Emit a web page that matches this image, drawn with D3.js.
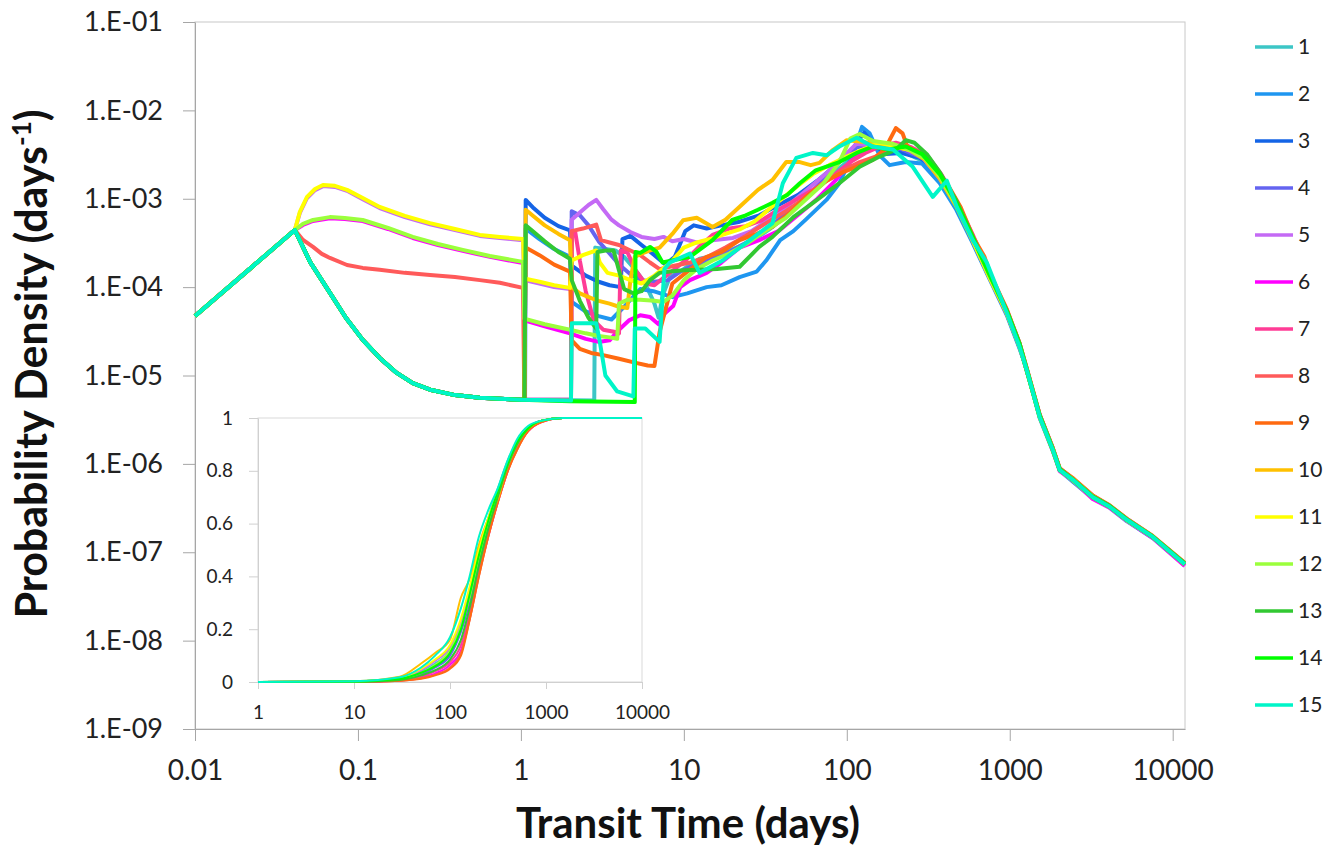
<!DOCTYPE html>
<html>
<head>
<meta charset="utf-8">
<script src="https://cdn.jsdelivr.net/npm/d3@7"></script>
<style>
  body { margin: 0; background: #fff; }
  text { font-family: Lato, "Open Sans", sans-serif; fill: #222; }
  .tick line, .domain { stroke: #a6a6a6; }
</style>
</head>
<body>
<svg id="chart" width="1336" height="847"></svg>
<script>
// Transit time distributions, 15 cases.
// Each series is a list of [days, probability density]

const names = ["1","2","3","4","5","6","7","8","9","10","11","12","13","14","15"];
const colors = ["#3cc6c6","#1e96f0","#1464e6","#6464f0","#c46af5","#ff00ff","#ff3c96","#ff5a5a",
                "#ff6a10","#ffc000","#ffff00","#9bff3c","#32c832","#00ff00","#00f5c8"];

// shared early part
const rise = [[0.01,4.7e-5],[0.041,4.43e-4]];
const fallSteep = [[0.0508,1.93e-4],[0.0673,8.6e-5],[0.0843,4.5e-5],[0.107,2.53e-5],[0.136,1.58e-5],[0.173,1.07e-5],[0.217,8.2e-6],[0.277,6.9e-6],[0.394,6.0e-6],[0.56,5.6e-6],[1.0,5.3e-6]];

const s1 = [[2.82,5.2e-6],[2.86,2.8e-4],[3.3,2.7e-4],[3.8,2.6e-4],[4.3,2.2e-4],[5.0,1.6e-4],[5.8,1.1e-4],[6.6,6.5e-5],[7.0,4.5e-5],[7.4,8.0e-5],[8.2,1.3e-4],[9.5,1.5e-4],[10.9,1.8e-4],[12.5,2.1e-4],[16,2.3e-4],[20,2.7e-4],[26,3.3e-4],[34,4.6e-4],[45,7.0e-4],[58,1.1e-3],[76,1.7e-3],[100,2.6e-3],[130,3.5e-3],[170,3.9e-3],[220,3.4e-3],[290,2.7e-3],[372,1.6e-3],[470,8.0e-4],[590,3.3e-4],[750,1.3e-4],[960,5.0e-5],[1150,2.1e-5],[1270,1.15e-5],[1527,3.5e-6],[1837,1.45e-6],[2026,8.6e-7],[2440,6.5e-7],[3230,4.3e-7],[4100,3.3e-7],[5220,2.3e-7],[7540,1.5e-7],[11860,7.4e-8]];
const s2 = [[1.05,5.3e-6],[1.07,4.6e-4],[1.3,3.5e-4],[1.6,2.7e-4],[2.0,2.2e-4],[2.05,6.8e-5],[2.5,5.3e-5],[3.0,4.7e-5],[3.6,4.3e-5],[4.3,6.0e-5],[5.4,9.5e-5],[6.5,9.0e-5],[8.5,7.7e-5],[10.5,8.5e-5],[13.8,1.0e-4],[17,1.05e-4],[22,1.3e-4],[28,1.5e-4],[32,2.0e-4],[39,3.4e-4],[47,4.3e-4],[56,5.8e-4],[75,9.7e-4],[90,1.5e-3],[110,3.3e-3],[124,6.5e-3],[138,5.5e-3],[159,3.1e-3],[183,2.4e-3],[230,2.6e-3],[290,2.5e-3],[372,1.5e-3],[470,7.5e-4],[590,3.2e-4],[750,1.25e-4],[960,4.8e-5],[1150,2.0e-5],[1270,1.2e-5],[1527,3.3e-6],[1837,1.4e-6],[2026,8.4e-7],[2440,6.3e-7],[3230,4.1e-7],[4100,3.2e-7],[5220,2.25e-7],[7540,1.45e-7],[11860,7.1e-8]];
const s3 = [[1.06,5.3e-6],[1.07,9.7e-4],[1.2,7.8e-4],[1.4,6.1e-4],[1.7,4.9e-4],[2.0,4.4e-4],[2.05,1.75e-4],[2.5,1.35e-4],[3.0,1.15e-4],[3.5,1.05e-4],[4.1,1.0e-4],[4.2,3.5e-4],[4.7,3.8e-4],[5.5,3.0e-4],[6.6,2.3e-4],[7.7,1.8e-4],[8.8,2.2e-4],[10.2,4.3e-4],[11.5,5.0e-4],[13.8,4.6e-4],[17,5.0e-4],[22,5.5e-4],[29,6.5e-4],[38,8.5e-4],[50,1.1e-3],[66,1.6e-3],[86,2.4e-3],[110,3.8e-3],[128,5.6e-3],[145,4.2e-3],[175,3.2e-3],[215,3.3e-3],[280,2.9e-3],[340,2.3e-3],[400,1.5e-3],[500,7.5e-4],[600,3.3e-4],[760,1.3e-4],[960,5.0e-5],[1150,2.1e-5],[1270,1.17e-5],[1527,3.4e-6],[1837,1.47e-6],[2026,8.7e-7],[2440,6.6e-7],[3230,4.2e-7],[4100,3.3e-7],[5220,2.35e-7],[7540,1.5e-7],[11860,7.3e-8]];
const s4 = [[2.03,5.3e-6],[2.05,7.2e-4],[2.3,6.5e-4],[2.6,5.0e-4],[3.0,3.3e-4],[3.5,2.4e-4],[4.0,1.8e-4],[4.7,1.4e-4],[5.5,1.2e-4],[6.6,1.15e-4],[8.0,1.2e-4],[9.5,1.5e-4],[11,1.7e-4],[14,2.0e-4],[19,2.5e-4],[25,3.3e-4],[33,4.6e-4],[44,7.2e-4],[58,1.1e-3],[76,1.8e-3],[95,2.9e-3],[115,3.8e-3],[140,4.2e-3],[175,3.9e-3],[220,3.6e-3],[290,2.9e-3],[360,2.0e-3],[470,8.5e-4],[590,3.6e-4],[750,1.35e-4],[960,5.2e-5],[1150,2.2e-5],[1270,1.13e-5],[1527,3.6e-6],[1837,1.5e-6],[2026,8.8e-7],[2440,6.4e-7],[3230,4.3e-7],[4100,3.25e-7],[5220,2.3e-7],[7540,1.47e-7],[11860,7.2e-8]];
const s5 = [[0.044,6.9e-4],[0.0487,1.02e-3],[0.0545,1.25e-3],[0.061,1.39e-3],[0.0722,1.36e-3],[0.0857,1.23e-3],[0.107,9.9e-4],[0.136,7.85e-4],[0.194,6.2e-4],[0.277,5.15e-4],[0.394,4.42e-4],[0.56,3.8e-4],[0.743,3.6e-4],[1.03,3.4e-4],[1.05,1.2e-4],[1.3,1.1e-4],[1.6,1.0e-4],[2.0,9.5e-5],[2.05,5.8e-4],[2.3,7.0e-4],[2.6,8.5e-4],[2.9,9.7e-4],[3.2,7.6e-4],[3.6,5.8e-4],[4.0,5.0e-4],[4.7,4.2e-4],[5.5,3.7e-4],[6.6,3.5e-4],[7.5,3.7e-4],[8.5,3.3e-4],[10,3.5e-4],[12,3.2e-4],[15,3.4e-4],[20,3.6e-4],[26,4.3e-4],[34,6.0e-4],[44,8.5e-4],[58,1.3e-3],[76,2.0e-3],[95,3.0e-3],[115,4.2e-3],[140,4.0e-3],[175,3.6e-3],[220,3.8e-3],[290,3.0e-3],[372,1.7e-3],[470,8.5e-4],[590,3.4e-4],[750,1.3e-4],[960,5.0e-5],[1150,2.1e-5],[1270,1.18e-5],[1527,3.4e-6],[1837,1.43e-6],[2026,8.5e-7],[2440,6.7e-7],[3230,4.2e-7],[4100,3.3e-7],[5220,2.3e-7],[7540,1.48e-7],[11860,7.4e-8]];
const s6 = [[0.046,5.05e-4],[0.053,5.6e-4],[0.0673,6.0e-4],[0.083,5.9e-4],[0.107,5.6e-4],[0.153,4.55e-4],[0.217,3.6e-4],[0.31,3.0e-4],[0.44,2.57e-4],[0.645,2.2e-4],[1.03,1.87e-4],[1.05,4.2e-5],[1.4,3.6e-5],[2.0,3.0e-5],[2.5,2.6e-5],[3.0,2.4e-5],[3.5,2.5e-5],[4.0,3.3e-5],[4.6,4.2e-5],[5.4,4.8e-5],[6.2,4.6e-5],[7.0,3.8e-5],[7.6,5.0e-5],[8.6,6.1e-5],[9.5,1.0e-4],[10.9,1.2e-4],[13.8,1.45e-4],[17,1.9e-4],[22,2.8e-4],[29,3.4e-4],[38,4.3e-4],[50,6.5e-4],[66,1.0e-3],[85,1.6e-3],[105,2.6e-3],[125,3.5e-3],[150,4.3e-3],[190,4.0e-3],[240,3.9e-3],[300,3.0e-3],[372,1.9e-3],[470,9.0e-4],[590,3.8e-4],[750,1.4e-4],[960,5.3e-5],[1150,2.2e-5],[1270,1.14e-5],[1527,3.5e-6],[1837,1.46e-6],[2026,8.3e-7],[2440,6.5e-7],[3230,4.0e-7],[4100,3.2e-7],[5220,2.28e-7],[7540,1.46e-7],[11860,7.0e-8]];
const s7 = [[2.03,5.3e-6],[2.05,4.3e-4],[2.15,4.3e-4],[2.3,2.0e-4],[2.5,9.0e-5],[2.8,4.2e-5],[3.2,3.3e-5],[3.8,3.1e-5],[4.0,3.0e-5],[4.1,2.6e-4],[4.5,2.5e-4],[5.0,1.6e-4],[5.8,1.1e-4],[6.6,1.05e-4],[7.6,1.3e-4],[8.8,1.6e-4],[10.5,2.1e-4],[12.5,2.9e-4],[15,3.9e-4],[19,4.6e-4],[24,4.9e-4],[30,5.7e-4],[38,7.5e-4],[50,1.0e-3],[66,1.35e-3],[85,1.9e-3],[105,2.6e-3],[130,3.3e-3],[160,3.9e-3],[200,4.3e-3],[250,3.8e-3],[310,3.1e-3],[380,1.9e-3],[470,9.5e-4],[590,4.0e-4],[750,1.45e-4],[960,5.5e-5],[1150,2.3e-5],[1270,1.2e-5],[1527,3.6e-6],[1837,1.5e-6],[2026,8.9e-7],[2440,6.8e-7],[3230,4.4e-7],[4100,3.35e-7],[5220,2.4e-7],[7540,1.52e-7],[11860,7.5e-8]];
const s8 = [[0.046,3.42e-4],[0.053,2.85e-4],[0.06,2.38e-4],[0.0673,2.14e-4],[0.0857,1.78e-4],[0.107,1.65e-4],[0.136,1.57e-4],[0.194,1.45e-4],[0.277,1.37e-4],[0.394,1.3e-4],[0.56,1.2e-4],[0.743,1.12e-4],[1.03,9.8e-5],[1.05,5.3e-6],[2.03,5.2e-6],[2.05,4.3e-4],[2.4,4.6e-4],[2.9,5.1e-4],[3.1,3.4e-4],[3.5,3.2e-4],[4.0,3.0e-4],[4.7,2.6e-4],[5.4,2.3e-4],[6.2,1.9e-4],[7.1,1.6e-4],[8.2,1.7e-4],[9.5,1.8e-4],[11,1.9e-4],[14,2.2e-4],[18,2.8e-4],[24,3.8e-4],[32,5.3e-4],[42,7.2e-4],[55,1.0e-3],[72,1.5e-3],[95,2.1e-3],[120,2.6e-3],[150,3.0e-3],[180,3.6e-3],[220,3.9e-3],[280,3.3e-3],[350,2.2e-3],[440,1.1e-3],[560,4.6e-4],[720,1.6e-4],[930,6.0e-5],[1150,2.2e-5],[1270,1.16e-5],[1527,3.45e-6],[1837,1.42e-6],[2026,8.6e-7],[2440,6.6e-7],[3230,4.25e-7],[4100,3.3e-7],[5220,2.32e-7],[7540,1.5e-7],[11860,7.3e-8]];
const s9 = [[1.05,5.3e-6],[1.07,2.8e-4],[1.3,2.3e-4],[1.6,1.8e-4],[2.0,1.5e-4],[2.05,2.5e-5],[2.3,2.0e-5],[2.7,1.8e-5],[3.2,1.7e-5],[4.0,1.55e-5],[5.0,1.4e-5],[6.0,1.3e-5],[6.6,1.28e-5],[7.1,3.1e-5],[8.5,1.1e-4],[10.5,1.5e-4],[13.8,2.2e-4],[17,2.5e-4],[22,3.4e-4],[28,4.0e-4],[35,4.8e-4],[45,7.0e-4],[56,1.05e-3],[75,1.6e-3],[95,2.0e-3],[115,2.3e-3],[144,2.75e-3],[170,3.6e-3],[183,4.6e-3],[200,6.3e-3],[220,5.5e-3],[235,3.9e-3],[280,3.3e-3],[340,2.4e-3],[420,1.4e-3],[500,8.0e-4],[600,3.6e-4],[700,2.2e-4],[760,1.4e-4],[960,5.6e-5],[1150,2.3e-5],[1270,1.22e-5],[1527,3.6e-6],[1837,1.52e-6],[2026,8.9e-7],[2440,6.9e-7],[3230,4.4e-7],[4100,3.4e-7],[5220,2.4e-7],[7540,1.53e-7],[11860,7.6e-8]];
const s10 = [[1.05,5.3e-6],[1.07,7.5e-4],[1.2,6.3e-4],[1.4,5.0e-4],[1.7,4.0e-4],[2.0,3.4e-4],[2.05,1.0e-4],[2.3,8.5e-5],[2.7,7.5e-5],[3.0,7.0e-5],[3.5,6.5e-5],[4.0,6.0e-5],[4.5,5.8e-5],[4.7,1.2e-4],[5.0,2.2e-4],[5.5,2.4e-4],[6.2,2.6e-4],[7.1,2.8e-4],[8.5,4.0e-4],[9.9,5.7e-4],[12,6.1e-4],[15,4.8e-4],[18,5.8e-4],[22,8.1e-4],[28.5,1.26e-3],[35,1.63e-3],[42.5,2.6e-3],[51.5,2.6e-3],[60,2.4e-3],[68,2.55e-3],[82,3.56e-3],[100,4.6e-3],[125,4.4e-3],[150,4.2e-3],[190,3.9e-3],[240,3.6e-3],[300,2.8e-3],[372,1.7e-3],[470,8.2e-4],[590,3.4e-4],[750,1.3e-4],[960,5.0e-5],[1150,2.1e-5],[1270,1.15e-5],[1527,3.4e-6],[1837,1.44e-6],[2026,8.5e-7],[2440,6.6e-7],[3230,4.2e-7],[4100,3.27e-7],[5220,2.33e-7],[7540,1.49e-7],[11860,7.3e-8]];
const s11 = [[0.044,7.1e-4],[0.0487,1.05e-3],[0.0545,1.29e-3],[0.061,1.43e-3],[0.0722,1.40e-3],[0.0857,1.26e-3],[0.107,1.02e-3],[0.136,8.07e-4],[0.194,6.4e-4],[0.277,5.3e-4],[0.394,4.55e-4],[0.56,3.9e-4],[0.743,3.7e-4],[1.03,3.5e-4],[1.05,1.25e-4],[1.3,1.15e-4],[1.6,1.05e-4],[2.0,9.8e-5],[2.05,2.0e-4],[2.4,2.3e-4],[2.9,2.6e-4],[3.05,1.9e-4],[3.4,1.45e-4],[4.0,1.35e-4],[4.7,1.2e-4],[5.5,1.1e-4],[6.6,1.35e-4],[7.4,1.6e-4],[8.4,1.95e-4],[10,2.8e-4],[12,3.2e-4],[14.5,3.5e-4],[18,4.0e-4],[22,4.5e-4],[27,5.5e-4],[33,7.5e-4],[40,1.0e-3],[50,1.4e-3],[62,1.9e-3],[78,2.4e-3],[100,3.0e-3],[125,3.6e-3],[160,4.3e-3],[200,3.9e-3],[250,3.5e-3],[310,2.8e-3],[380,1.7e-3],[470,8.5e-4],[590,3.5e-4],[750,1.3e-4],[960,5.2e-5],[1150,2.2e-5],[1270,1.17e-5],[1527,3.5e-6],[1837,1.46e-6],[2026,8.7e-7],[2440,6.7e-7],[3230,4.3e-7],[4100,3.3e-7],[5220,2.35e-7],[7540,1.5e-7],[11860,7.4e-8]];
const s12 = [[0.046,5.2e-4],[0.053,5.75e-4],[0.0673,6.2e-4],[0.083,6.07e-4],[0.107,5.75e-4],[0.153,4.67e-4],[0.217,3.7e-4],[0.31,3.08e-4],[0.44,2.64e-4],[0.645,2.25e-4],[1.03,1.93e-4],[1.05,4.4e-5],[1.4,3.8e-5],[2.0,3.3e-5],[2.5,3.0e-5],[3.0,2.8e-5],[3.5,2.7e-5],[3.9,2.6e-5],[4.0,6.5e-5],[4.5,7.2e-5],[5.4,7.2e-5],[6.6,7.0e-5],[7.5,6.8e-5],[8.5,8.0e-5],[10,1.2e-4],[12,1.6e-4],[15,2.0e-4],[19,2.4e-4],[25,3.2e-4],[32,4.4e-4],[42,6.0e-4],[55,9.5e-4],[72,1.5e-3],[90,2.6e-3],[105,4.8e-3],[120,5.4e-3],[145,4.5e-3],[190,4.2e-3],[240,3.6e-3],[300,2.9e-3],[372,1.8e-3],[470,8.6e-4],[590,3.6e-4],[750,1.35e-4],[960,5.2e-5],[1150,2.2e-5],[1270,1.16e-5],[1527,3.4e-6],[1837,1.45e-6],[2026,8.6e-7],[2440,6.5e-7],[3230,4.2e-7],[4100,3.3e-7],[5220,2.3e-7],[7540,1.5e-7],[11860,7.3e-8]];
const s13 = [[1.05,5.3e-6],[1.07,5.0e-4],[1.2,4.2e-4],[1.4,3.3e-4],[1.7,2.5e-4],[2.0,2.1e-4],[2.05,1.2e-4],[2.3,7.0e-5],[2.6,4.5e-5],[2.9,3.4e-5],[2.95,2.5e-4],[3.3,2.6e-4],[3.7,2.6e-4],[4.3,9.5e-5],[4.9,8.5e-5],[5.5,9.0e-5],[6.2,1.2e-4],[7.1,1.45e-4],[8.2,1.5e-4],[10,1.55e-4],[12.5,1.57e-4],[16,1.6e-4],[22,1.7e-4],[29,2.85e-4],[35,3.7e-4],[47,6.2e-4],[62,9.0e-4],[90,1.5e-3],[120,2.3e-3],[159,3.0e-3],[200,3.6e-3],[230,4.6e-3],[260,4.3e-3],[310,3.2e-3],[372,2.0e-3],[470,9.5e-4],[590,3.8e-4],[750,1.4e-4],[960,5.4e-5],[1150,2.3e-5],[1270,1.19e-5],[1527,3.55e-6],[1837,1.48e-6],[2026,8.8e-7],[2440,6.7e-7],[3230,4.3e-7],[4100,3.35e-7],[5220,2.37e-7],[7540,1.51e-7],[11860,7.5e-8]];
const s14 = [[2.0,5.1e-6],[5.0,5.0e-6],[5.05,2.5e-4],[5.4,2.44e-4],[6.2,2.85e-4],[6.8,2.5e-4],[7.4,1.9e-4],[8.5,2.0e-4],[10.9,2.2e-4],[13,2.8e-4],[15,3.4e-4],[19.8,5.75e-4],[24,6.5e-4],[28.5,7.5e-4],[35,9.0e-4],[43,1.1e-3],[51.5,1.5e-3],[64.5,2.1e-3],[90,2.6e-3],[115,3.3e-3],[144,3.9e-3],[180,3.6e-3],[230,3.9e-3],[290,3.2e-3],[372,1.9e-3],[470,9.0e-4],[590,3.7e-4],[750,1.4e-4],[960,5.3e-5],[1150,2.2e-5],[1270,1.15e-5],[1527,3.45e-6],[1837,1.44e-6],[2026,8.5e-7],[2440,6.6e-7],[3230,4.2e-7],[4100,3.28e-7],[5220,2.32e-7],[7540,1.49e-7],[11860,7.3e-8]];
const s15 = [[2.03,5.2e-6],[2.05,3.9e-5],[2.9,3.9e-5],[3.05,2.4e-5],[3.3,1.0e-5],[3.9,6.6e-6],[4.9,5.8e-6],[5.0,3.4e-5],[5.8,3.4e-5],[7.1,2.4e-5],[7.6,1.6e-4],[8.2,1.9e-4],[10.9,2.4e-4],[12.5,1.45e-4],[17.3,2.0e-4],[25.4,3.4e-4],[35,5.3e-4],[40.5,1.5e-3],[49,2.9e-3],[62,3.3e-3],[75,3.1e-3],[90,3.9e-3],[115,4.9e-3],[144,3.9e-3],[192,3.6e-3],[254,2.3e-3],[337,1.05e-3],[411,1.6e-3],[473,8.1e-4],[593,3.4e-4],[723,1.9e-4],[960,5.1e-5],[1150,2.1e-5],[1270,1.16e-5],[1527,3.4e-6],[1837,1.44e-6],[2026,8.5e-7],[2440,6.6e-7],[3230,4.2e-7],[4100,3.27e-7],[5220,2.33e-7],[7540,1.49e-7],[11860,7.3e-8]];

// cumulative distributions for the inset
const cdfDays = [1,10,30,50,70,100,130,160,200,250,320,400,500,650,900,1500,10000];
const cdf1  = [0,0.002,0.012,0.04,0.07,0.12,0.22,0.35,0.50,0.62,0.74,0.84,0.91,0.96,0.99,1,1];
const cdf2  = [0,0.001,0.008,0.03,0.06,0.12,0.23,0.34,0.47,0.59,0.71,0.82,0.90,0.96,0.99,1,1];
const cdf3  = [0,0.001,0.008,0.03,0.06,0.11,0.21,0.32,0.46,0.59,0.71,0.82,0.90,0.96,0.99,1,1];
const cdf4  = [0,0.001,0.008,0.028,0.055,0.10,0.19,0.30,0.44,0.57,0.70,0.81,0.90,0.96,0.99,1,1];
const cdf5  = [0,0.002,0.013,0.045,0.08,0.13,0.22,0.34,0.49,0.61,0.73,0.83,0.91,0.96,0.99,1,1];
const cdf6  = [0,0.001,0.006,0.016,0.032,0.065,0.12,0.24,0.41,0.55,0.69,0.80,0.89,0.95,0.985,1,1];
const cdf7  = [0,0.001,0.007,0.02,0.04,0.075,0.14,0.26,0.42,0.56,0.70,0.81,0.89,0.95,0.99,1,1];
const cdf8  = [0,0.001,0.005,0.014,0.028,0.055,0.11,0.235,0.40,0.55,0.69,0.80,0.88,0.95,0.985,1,1];
const cdf9  = [0,0.001,0.005,0.012,0.025,0.05,0.10,0.235,0.40,0.55,0.69,0.80,0.88,0.95,0.985,1,1];
const cdf10 = [0,0.003,0.02,0.07,0.11,0.16,0.32,0.39,0.52,0.62,0.70,0.83,0.91,0.96,0.99,1,1];
const cdf11 = [0,0.002,0.015,0.05,0.085,0.14,0.24,0.36,0.50,0.62,0.73,0.83,0.91,0.96,0.99,1,1];
const cdf12 = [0,0.002,0.011,0.035,0.065,0.12,0.21,0.32,0.47,0.60,0.72,0.82,0.90,0.96,0.99,1,1];
const cdf13 = [0,0.001,0.008,0.025,0.045,0.085,0.16,0.28,0.44,0.58,0.71,0.82,0.90,0.96,0.99,1,1];
const cdf14 = [0,0.002,0.012,0.035,0.06,0.11,0.20,0.33,0.48,0.61,0.73,0.83,0.91,0.96,0.99,1,1];
const cdf15 = [0,0.003,0.018,0.055,0.10,0.17,0.28,0.40,0.55,0.65,0.74,0.84,0.92,0.97,0.99,1,1];

const yTicks = [1e-9,1e-8,1e-7,1e-6,1e-5,1e-4,1e-3,1e-2,1e-1];
const xTicks = [0.01,0.1,1,10,100,1000,10000];
const insetXTicks = [1,10,100,1000,10000];
const insetYTicks = [0,0.2,0.4,0.6,0.8,1];

// put the series together
const pdfs = [
  rise.concat(fallSteep, s1), rise.concat(fallSteep, s2), rise.concat(fallSteep, s3),
  rise.concat(fallSteep, s4), rise.concat(s5), rise.concat(s6), rise.concat(fallSteep, s7),
  rise.concat(s8), rise.concat(fallSteep, s9), rise.concat(fallSteep, s10), rise.concat(s11),
  rise.concat(s12), rise.concat(fallSteep, s13), rise.concat(fallSteep, s14), rise.concat(fallSteep, s15)
];
const cdfs = [cdf1,cdf2,cdf3,cdf4,cdf5,cdf6,cdf7,cdf8,cdf9,cdf10,cdf11,cdf12,cdf13,cdf14,cdf15];

const svg = d3.select("#chart");

// main scales
const x = d3.scaleLog().domain([0.01, 11900]).range([195, 1185]);
const y = d3.scaleLog().domain([1e-9, 1e-1]).range([729, 22]);

svg.append("rect")
  .attr("x", 195).attr("y", 22).attr("width", 990).attr("height", 707)
  .attr("fill", "none").attr("stroke", "#c8c8c8");

const fmtE = d => "1.E-" + String(-Math.round(Math.log10(d))).padStart(2, "0");

svg.append("g")
  .attr("transform", "translate(195,0)")
  .call(d3.axisLeft(y).tickValues(yTicks).tickFormat(fmtE).tickSize(12).tickPadding(20).tickSizeOuter(0))
  .call(g => g.attr("font-family", null).attr("font-size", null))
  .call(g => g.selectAll("text").style("font-size", "27px"));

svg.append("g")
  .attr("transform", "translate(0,729)")
  .call(d3.axisBottom(x).tickValues(xTicks).tickFormat(d3.format("~g")).tickSize(12).tickPadding(19).tickSizeOuter(0))
  .call(g => g.attr("font-family", null).attr("font-size", null))
  .call(g => g.selectAll("text").style("font-size", "28px"));

// density lines
const line = d3.line()
  .x(d => x(d[0]))
  .y(d => y(d[1]));

svg.append("g").selectAll("path")
  .data(pdfs)
  .join("path")
  .attr("d", line)
  .attr("fill", "none")
  .attr("stroke", (d, i) => colors[i])
  .attr("stroke-width", 4)
  .attr("stroke-linejoin", "round");

// inset with the cumulative curves
const xi = d3.scaleLog().domain([1, 10000]).range([258, 642]);
const yi = d3.scaleLinear().domain([0, 1]).range([682, 418]);

const inset = svg.append("g");
inset.append("rect")
  .attr("x", 258).attr("y", 418).attr("width", 384).attr("height", 264)
  .attr("fill", "#fff").attr("stroke", "#d9d9d9");

inset.append("g")
  .attr("transform", "translate(258,0)")
  .call(d3.axisLeft(yi).tickValues(insetYTicks).tickFormat(d3.format("~g")).tickSize(9).tickPadding(16).tickSizeOuter(0))
  .call(g => g.attr("font-family", null).attr("font-size", null))
  .call(g => g.selectAll("line, .domain").style("stroke", "#d0d0d0"))
  .call(g => g.selectAll("text").style("font-size", "19px"));

inset.append("g")
  .attr("transform", "translate(0,682)")
  .call(d3.axisBottom(xi).tickValues(insetXTicks).tickFormat(d3.format("~g")).tickSize(7).tickPadding(17).tickSizeOuter(0))
  .call(g => g.attr("font-family", null).attr("font-size", null))
  .call(g => g.selectAll("line, .domain").style("stroke", "#d0d0d0"))
  .call(g => g.selectAll("text").style("font-size", "19px"));

const lineI = d3.line()
  .x((d, i) => xi(cdfDays[i]))
  .y(d => yi(d))
  .curve(d3.curveMonotoneX);

inset.append("g").selectAll("path")
  .data(cdfs)
  .join("path")
  .attr("d", lineI)
  .attr("fill", "none")
  .attr("stroke", (d, i) => colors[i])
  .attr("stroke-width", 2);

// axis titles
svg.append("text")
  .attr("x", 688).attr("y", 838)
  .attr("text-anchor", "middle")
  .style("font-size", "42px").style("font-weight", "bold").style("fill", "#111")
  .text("Transit Time (days)");

const yt = svg.append("text")
  .attr("transform", "translate(47,364) rotate(-90)")
  .attr("text-anchor", "middle")
  .style("font-size", "43px").style("font-weight", "bold").style("fill", "#111");
yt.append("tspan").text("Probability Density (days");
yt.append("tspan").attr("dy", -16).style("font-size", "26px").text("-1");
yt.append("tspan").attr("dy", 16).text(")");

// legend
const legend = svg.append("g").selectAll("g")
  .data(names)
  .join("g")
  .attr("transform", (d, i) => `translate(1255,${47 + i * 47})`);
legend.append("line")
  .attr("x1", 0).attr("x2", 38)
  .attr("stroke", (d, i) => colors[i])
  .attr("stroke-width", 3.5);
legend.append("text")
  .attr("x", 43).attr("dy", "0.35em")
  .style("font-size", "21px")
  .text(d => d);
</script>
</body>
</html>
